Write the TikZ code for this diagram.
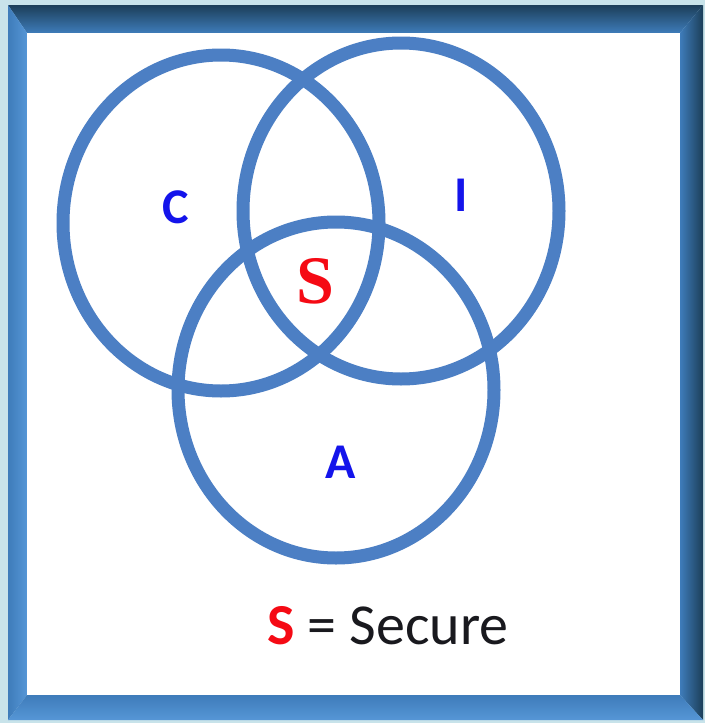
\documentclass[tikz,border=0pt]{standalone}
\usepackage{fontspec}
\setmainfont{Carlito}
\newfontfamily\serifbold{Liberation Serif}
\usetikzlibrary{shapes.geometric}
\definecolor{bgblue}{RGB}{200,227,234}
\definecolor{ringblue}{RGB}{76,127,196}
\definecolor{lblblue}{RGB}{20,20,235}
\definecolor{sred}{RGB}{245,10,20}
\definecolor{frdark}{RGB}{28,62,88}
\definecolor{frmid}{RGB}{62,124,186}
\definecolor{frlight}{RGB}{86,150,214}
\definecolor{txtblack}{RGB}{25,25,30}
\tikzset{
  ring/.style={ellipse, draw=ringblue, line width=13pt, minimum width=316pt, minimum height=336pt, inner sep=0pt},
  lbl/.style={text=lblblue, font=\fontsize{50}{56}\selectfont\bfseries, inner sep=0pt},
}
\begin{document}
\begin{tikzpicture}[x=1pt,y=-1pt]
\useasboundingbox (0,0) rectangle (705,723);
\fill[bgblue] (0,0) rectangle (705,723);
% frame bevels
\shade[top color=frdark, bottom color=frmid] (8,5) -- (703,5) -- (680,33) -- (27,33) -- cycle;
\shade[left color=frmid, right color=frlight] (8,5) -- (27,33) -- (27,695) -- (8,720) -- cycle;
\shade[left color=frmid, right color=frdark] (703,5) -- (680,33) -- (680,695) -- (703,720) -- cycle;
\shade[top color=frmid, bottom color=frlight] (27,695) -- (680,695) -- (703,720) -- (8,720) -- cycle;
\fill[white] (27,33) rectangle (680,695);
% circles
\node[ring] (C) at (221,223) {};
\node[ring] (I) at (401,211) {};
\node[ring] (A) at (336,390) {};
% labels
\node[lbl] (c) at (176,207) {C};
\node[lbl] (i) at (461,195) {I};
\node[lbl] (a) at (341,462) {A};
\node[text=sred, font=\fontsize{68}{74}\selectfont\serifbold\bfseries, inner sep=0pt] (s) at (315,281) {S};
\node[text=txtblack, font=\fontsize{58}{64}\selectfont, inner sep=0pt] (key) at (388,626) {\textcolor{sred}{\bfseries S} = Secure};
\end{tikzpicture}
\end{document}
